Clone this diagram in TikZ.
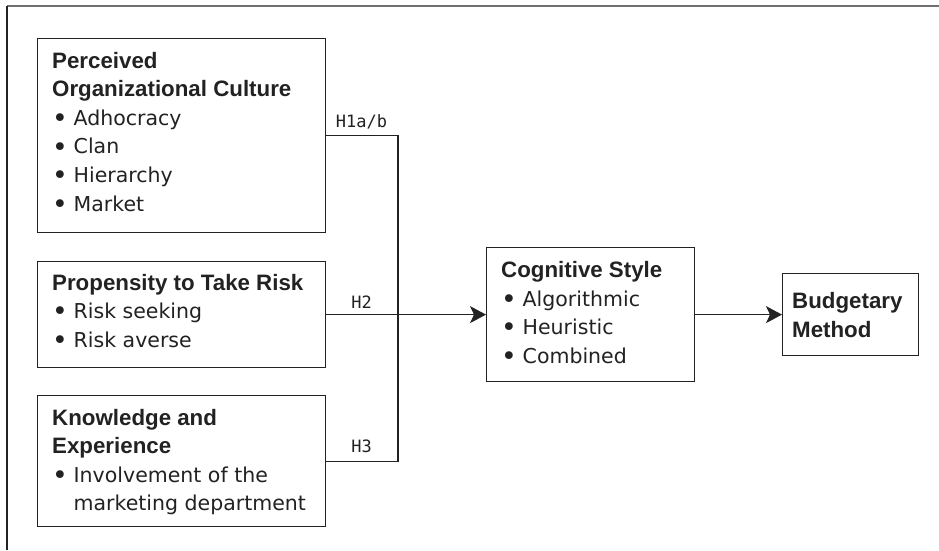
\documentclass[tikz,border=0pt]{standalone}
\usepackage{fontspec}
\setmainfont{DejaVu Sans}
\newfontfamily\headfont{Liberation Sans}
\newfontfamily\labfont{DejaVu Sans Mono}
\usetikzlibrary{arrows.meta}
\definecolor{ink}{HTML}{222222}
\definecolor{framegrey}{HTML}{707070}
\tikzset{
  box/.style={draw=ink, line width=1.2pt, inner sep=0pt, anchor=north west},
  head/.style={anchor=base west, inner sep=0pt, text=ink, font=\headfont\bfseries\fontsize{22.3}{26}\selectfont},
  item/.style={anchor=base west, inner sep=0pt, text=ink, font=\fontsize{20.5}{26}\selectfont},
  hyp/.style={anchor=base, inner sep=0pt, text=ink, font=\labfont\fontsize{17}{20}\selectfont},
  link/.style={draw=ink, line width=1.2pt},
  arr/.style={link, -{Stealth[length=16pt, width=17pt, inset=4pt]}},
}
\newcommand{\bul}{\makebox[21.5pt][l]{\raisebox{-2.2pt}{\scalebox{1.3}{\textbullet}}}}
\begin{document}
\begin{tikzpicture}[x=1pt, y=-1pt]
\useasboundingbox[fill=white] (0,0) rectangle (939,550);
% outer frame
\draw[framegrey, line width=2pt] (7,6) -- (939,6);
\draw[ink, line width=1.2pt] (7,6) -- (7,550);
% boxes
\node[box, minimum width=288pt, minimum height=194pt] (b1) at (37,38) {};
\node[box, minimum width=288pt, minimum height=106pt] (b2) at (37,261) {};
\node[box, minimum width=288pt, minimum height=131pt] (b3) at (37,395) {};
\node[box, minimum width=208pt, minimum height=134pt] (cog) at (486,247) {};
\node[box, minimum width=136pt, minimum height=82pt] (bud) at (782,273) {};
% box 1 text
\node[head] (b1h1) at (52,68) {Perceived};
\node[head] (b1h2) at (52,96.6) {Organizational Culture};
\node[item] (b1i1) at (52,125.2) {\bul Adhocracy};
\node[item] (b1i2) at (52,153.8) {\bul Clan};
\node[item] (b1i3) at (52,182.4) {\bul Hierarchy};
\node[item] (b1i4) at (52,211) {\bul Market};
% box 2 text
\node[head] (b2h1) at (52,290) {Propensity to Take Risk};
\node[item] (b2i1) at (52,318.5) {\bul Risk seeking};
\node[item] (b2i2) at (52,347) {\bul Risk averse};
% box 3 text
\node[head] (b3h1) at (52,425.5) {Knowledge and};
\node[head] (b3h2) at (52,453.5) {Experience};
\node[item] (b3i1) at (52,482) {\bul Involvement of the};
\node[item] (b3i2) at (52,510.5) {\hspace*{21.5pt}marketing department};
% cognitive style
\node[head] (cogh) at (501,277) {Cognitive Style};
\node[item] (cogi1) at (501,306) {\bul Algorithmic};
\node[item] (cogi2) at (501,334.5) {\bul Heuristic};
\node[item] (cogi3) at (501,363) {\bul Combined};
% budgetary method
\node[head] (budh1) at (792,308) {Budgetary};
\node[head] (budh2) at (792,337) {Method};
% connectors
\coordinate (j) at (398,314);
\draw[link] (b1.east) -| (j);
\draw[link] (b3.east) -| (j);
\draw[arr] (b2.east) -- (cog.west);
\draw[arr] (cog.east) -- (bud.west);
% hypothesis labels
\node[hyp] (h1) at (361.5,127) {H1a/b};
\node[hyp] (h2) at (361.5,308) {H2};
\node[hyp] (h3) at (361.5,452) {H3};
\end{tikzpicture}
\end{document}
